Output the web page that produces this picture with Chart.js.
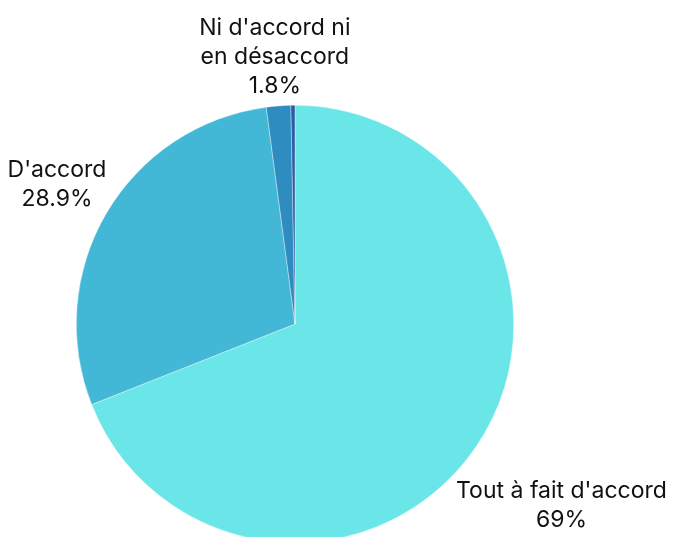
<!DOCTYPE html>
<html>
<head>
<meta charset="utf-8">
<script src="https://cdn.jsdelivr.net/npm/chart.js@4"></script>
<style>
  html, body { margin: 0; padding: 0; background: #fff; overflow: hidden; }
  #wrap { width: 676px; height: 543px; }
</style>
</head>
<body>
<div id="wrap"><canvas id="pieChart" width="676" height="543"></canvas></div>
<script>
const categories = ["Tout à fait d'accord", "D'accord", "Ni d'accord ni en désaccord", "Pas d'accord"];
const labelLines = [["Tout à fait d'accord"], ["D'accord"], ["Ni d'accord ni", "en désaccord"], ["Pas d'accord"]];
const values = [69, 28.9, 1.8, 0.3];
const colors = ['#6ae6e9', '#43b8d6', '#2e8cc0', '#2b5ea3'];

const fontSize = 23;
const lineH = 29;

// draws labels outside each slice, pushed out along the mid angle
const outsideLabels = {
    id: 'outsideLabels',
    afterDatasetsDraw(chart) {
        const ctx = chart.ctx;
        const meta = chart.getDatasetMeta(0);
        ctx.save();
        ctx.font = fontSize + 'px Inter';
        ctx.fillStyle = '#111';
        ctx.textAlign = 'center';
        ctx.textBaseline = 'middle';
        meta.data.forEach((arc, i) => {
            if (values[i] < 1) return;
            const lines = labelLines[i].concat([values[i] + '%']);
            const mid = (arc.startAngle + arc.endAngle) / 2;
            const dx = Math.cos(mid), dy = Math.sin(mid);
            let w = 0;
            lines.forEach(l => { w = Math.max(w, ctx.measureText(l).width); });
            const hw = w / 2, hh = lines.length * lineH / 2;
            const d = arc.outerRadius + Math.abs(dx) * hw + Math.abs(dy) * hh;
            const cx = arc.x + dx * d, cy = arc.y + dy * d;
            lines.forEach((l, k) => {
                ctx.fillText(l, cx, cy - hh + lineH / 2 + k * lineH);
            });
        });
        ctx.restore();
    }
};

function initChart() {
    const ctx = document.getElementById('pieChart').getContext('2d');
    new Chart(ctx, {
        type: 'pie',
        data: { labels: categories, datasets: [{ data: values, backgroundColor: colors, borderColor: 'rgba(255,255,255,0.6)', borderWidth: 0.6 }] },
        options: {
            responsive: false,
            animation: false,
            layout: { padding: { left: 76, right: 162, top: 105, bottom: 0 } },
            plugins: { legend: { display: false }, tooltip: { enabled: false } }
        },
        plugins: [outsideLabels]
    });
}

initChart();
</script>
</body>
</html>
